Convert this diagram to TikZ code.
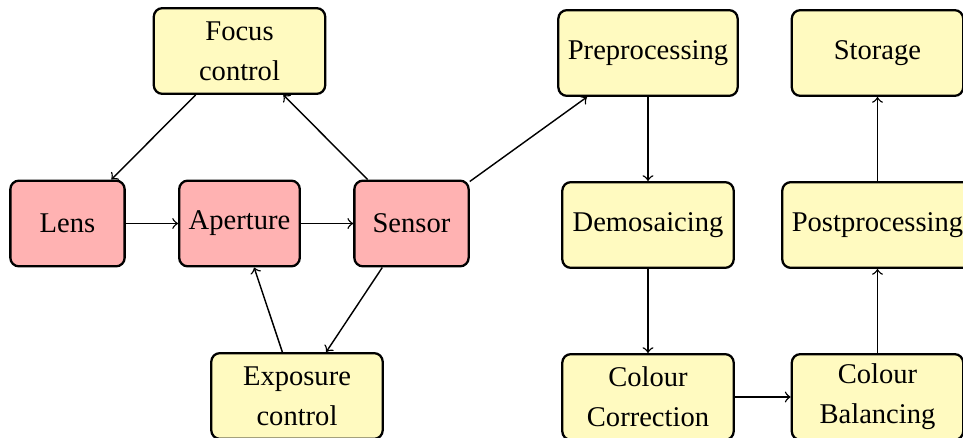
\documentclass[tikz,border=0pt]{standalone}
\usepackage{fontspec}
\setmainfont{Liberation Serif}
\begin{document}
\begin{tikzpicture}[x=0.35pt,y=-0.35pt,
  box/.style={draw=black, line width=0.8pt, rounded corners=3pt, align=center,
    minimum height=30pt, inner sep=3.333pt, font=\fontsize{10}{14}\selectfont},
  hw/.style={box, fill=red!30, minimum width=40pt},
  sw/.style={box, fill={rgb,255:red,255;green,250;blue,192}, minimum width=60pt},
  conn/.style={->, line width=0.5pt}]
\useasboundingbox (0,0) rectangle (963,438);
\clip (0,0) rectangle (963,438);
\node[sw] (focus) at (239.5,51) {Focus\\control};
\node[hw] (lens) at (67.5,223.5) {Lens};
\node[hw] (aperture) at (239.5,223.5) {Aperture};
\node[hw] (sensor) at (411.5,223.5) {Sensor};
\node[sw] (exposure) at (297,396) {Exposure\\control};
\node[sw] (pre) at (648,53) {Preprocessing};
\node[sw] (demo) at (648,225) {Demosaicing};
\node[sw] (corr) at (648,397) {Colour\\Correction};
\node[sw] (bal) at (877.5,397) {Colour\\Balancing};
\node[sw] (post) at (877.5,225) {Postprocessing};
\node[sw] (storage) at (877.5,53) {Storage};
\draw[conn] (focus) -- (lens);
\draw[conn] (lens) -- (aperture);
\draw[conn] (aperture) -- (sensor);
\draw[conn] (sensor) -- (focus);
\draw[conn] (sensor) -- (exposure);
\draw[conn] (exposure) -- (aperture);
\draw[conn] (sensor) -- (pre);
\draw[conn] (pre) -- (demo);
\draw[conn] (demo) -- (corr);
\draw[conn] (corr) -- (bal);
\draw[conn] (bal) -- (post);
\draw[conn] (post) -- (storage);
\end{tikzpicture}
\end{document}
